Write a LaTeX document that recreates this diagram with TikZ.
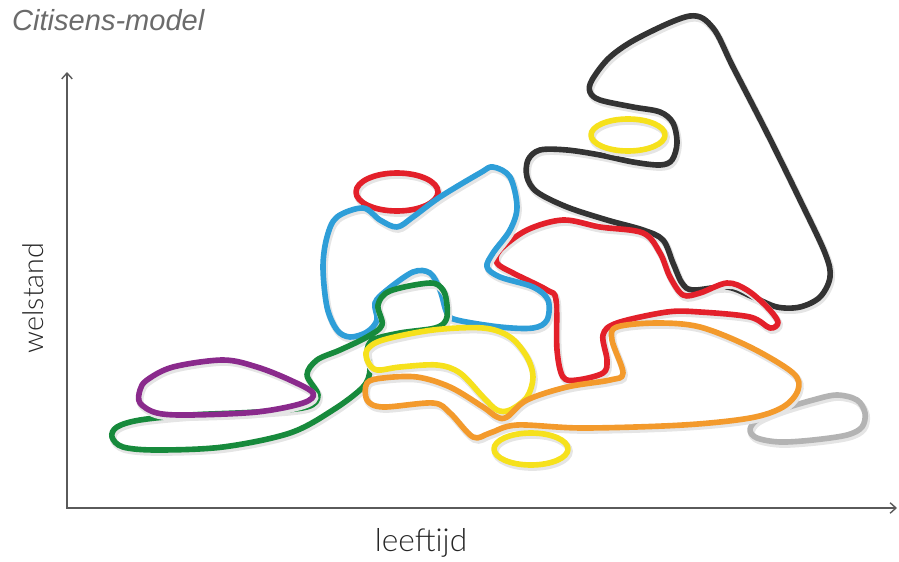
\documentclass[tikz,border=0pt]{standalone}
\usepackage{fontspec}
\setmainfont{Liberation Sans}
\newfontfamily\axisfont{Lato Light}
\usepackage{xcolor}
\usetikzlibrary{arrows.meta}
\definecolor{blk}{HTML}{333333}
\definecolor{rd}{HTML}{E3202A}
\definecolor{bl}{HTML}{2E9ED8}
\definecolor{grn}{HTML}{178A3C}
\definecolor{prp}{HTML}{8A2A8C}
\definecolor{ylw}{HTML}{F6E11C}
\definecolor{orn}{HTML}{F39A2C}
\definecolor{gry}{HTML}{B3B3B3}
\definecolor{axisgray}{HTML}{5A5A5A}

\begin{document}
\begin{tikzpicture}[x=0.03cm,y=-0.03cm,
  blob/.style={line width=4.8pt,line join=round,
    preaction={draw=black!10,line width=6pt,transform canvas={shift={(0.04cm,-0.07cm)}}}},
  axis/.style={axisgray,line width=1.2pt,{Straight Barb[length=5pt,width=9pt]}-{Straight Barb[length=5pt,width=9pt]}}]
\useasboundingbox (0,0) rectangle (899,561);

% Axes
\coordinate (origin) at (67,508);
\coordinate (ytop) at (67,72);
\coordinate (xend) at (897,508);
\draw[axis] (ytop) -- (origin) -- (xend);
\node[anchor=base west,font=\fontsize{24.8}{27}\selectfont\itshape,text=black!58,inner sep=0pt] (title) at (12,30) {Citisens-model};
\node[rotate=90,font=\fontsize{24.5}{26}\selectfont\axisfont,text=black!85] (ylabel) at (33,298) {welstand};
\node[font=\fontsize{27}{29}\selectfont\axisfont,text=black!85] (xlabel) at (421,543) {leeftijd};

% Groups
\draw[blob,blk] plot[smooth cycle,tension=0.55] coordinates {(690,16) (713,28) (733,67) (767,133) (800,200) (825,253) (830,277) (820,297) (800,307) (777,307) (753,297) (727,287) (693,290) (682,283) (673,263) (663,240) (643,230) (607,220) (567,207) (537,192) (527,177) (528,160) (540,150) (567,150) (600,155) (633,162) (660,165) (672,160) (677,143) (673,123) (660,112) (633,107) (600,100) (590,92) (592,80) (610,57) (640,37)};
\draw[blob,ylw] (628,135) ellipse [x radius=37,y radius=16];

\draw[blob,rd] plot[smooth cycle,tension=0.55] coordinates {(527,230) (563,220) (600,227) (643,233) (660,253) (670,277) (683,295) (700,293) (727,283) (747,290) (767,307) (778,322) (770,328) (750,317) (700,312) (667,312) (617,323) (603,335) (607,360) (603,373) (577,380) (563,377) (557,350) (556,300) (547,290) (513,273) (497,263) (500,250)};
\draw[blob,rd] (397,192) ellipse [x radius=41,y radius=19];

\draw[blob,bl] plot[smooth cycle,tension=0.55] coordinates {(363,208) (380,220) (397,227) (413,217) (440,197) (480,173) (493,167) (510,177) (517,207) (510,230) (493,253) (487,267) (500,277) (533,287) (548,300) (547,320) (533,328) (500,327) (457,320) (447,313) (440,290) (430,273) (413,272) (387,290) (375,303) (377,320) (367,332) (350,337) (337,330) (327,307) (323,267) (327,237) (337,217)};

\draw[blob,grn] plot[smooth cycle,tension=0.55] coordinates {(430,283) (443,290) (447,305) (446,320) (435,328) (400,333) (373,340) (367,352) (370,370) (363,387) (333,410) (290,433) (223,447) (157,450) (123,447) (112,437) (117,427) (140,420) (190,415) (257,412) (307,407) (318,395) (307,375) (317,360) (340,350) (367,337) (382,325) (378,305) (390,291)};

\draw[blob,prp] plot[smooth cycle,tension=0.55] coordinates {(147,380) (173,367) (223,360) (257,367) (290,380) (313,393) (303,403) (257,412) (190,415) (157,413) (140,403) (140,390)};

\draw[blob,ylw] plot[smooth cycle,tension=0.55] coordinates {(367,350) (383,340) (433,330) (483,328) (510,337) (527,357) (533,377) (527,397) (510,410) (497,410) (483,397) (460,373) (437,365) (400,367) (377,370) (368,362)};

\draw[blob,gry] plot[smooth cycle,tension=0.55] coordinates {(750,430) (757,420) (780,410) (813,400) (837,395) (857,400) (865,413) (862,427) (847,435) (813,440) (780,442) (757,438)};

\draw[blob,orn] plot[smooth cycle,tension=0.55] coordinates {(383,378) (417,377) (450,387) (483,407) (497,417) (507,417) (527,400) (567,387) (610,380) (623,373) (612,340) (617,327) (657,323) (700,327) (750,347) (793,373) (798,390) (783,407) (750,418) (683,425) (583,428) (517,425) (490,433) (473,437) (450,413) (433,403) (383,407) (367,400) (367,383)};

\draw[blob,ylw] (531,449) ellipse [x radius=37,y radius=16];
\end{tikzpicture}
\end{document}
